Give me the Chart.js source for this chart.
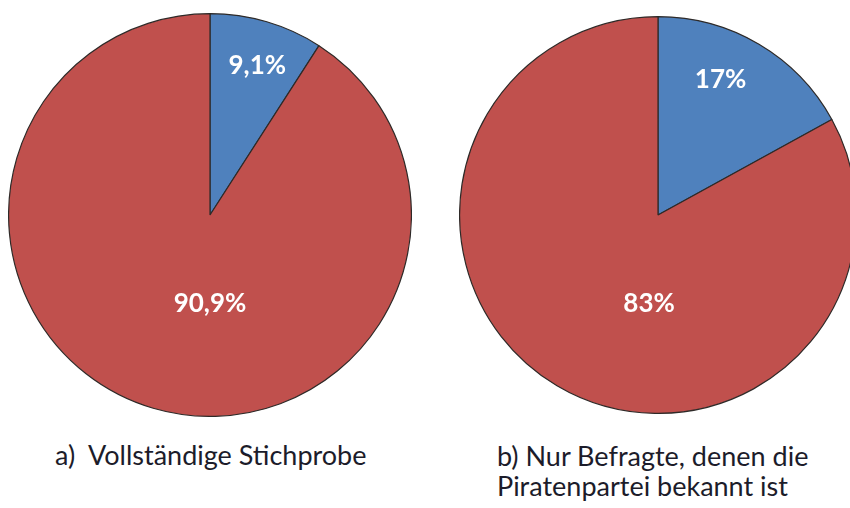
<!DOCTYPE html>
<html>
<head>
<meta charset="utf-8">
<script src="https://cdn.jsdelivr.net/npm/chart.js@4.4.0/dist/chart.umd.min.js"></script>
<style>
    html, body { margin: 0; padding: 0; background: #fff; overflow: hidden; width: 850px; height: 508px; }
    .pie { position: absolute; }
    .caption { position: absolute; font-family: Lato, "Open Sans", sans-serif; font-size: 27px; color: #1c1c2a; line-height: 30px; }
</style>
</head>
<body>
<div class="pie" style="left:8px; top:13px; width:404px; height:404px;"><canvas id="pieA"></canvas></div>
<div class="pie" style="left:459px; top:16px; width:398px; height:398px;"><canvas id="pieB"></canvas></div>
<div class="caption" style="left:55px; top:440px;">a)&nbsp; Vollständige Stichprobe</div>
<div class="caption" style="left:497px; top:441px;">b) Nur Befragte, denen die<br>Piratenpartei bekannt ist</div>
<script>
// Anteile in Prozent (blau = ja, rot = nein)
const categories = ["Piratenpartei", "andere"];
const valuesA = [9.1, 90.9];
const valuesB = [17, 83];
const labelsA = ["9,1%", "90,9%"];
const labelsB = ["17%", "83%"];
const colors = ["#4f81bd", "#c0504d"];

// draws the percentage text inside each slice
const sliceLabels = {
    id: "sliceLabels",
    afterDatasetsDraw(chart, args, opts) {
        let ctx = chart.ctx;
        let meta = chart.getDatasetMeta(0);
        ctx.save();
        ctx.fillStyle = "#fff";
        ctx.font = "bold 26px Lato, 'Open Sans', sans-serif";
        ctx.textAlign = "center";
        ctx.textBaseline = "middle";
        meta.data.forEach((arc, i) => {
            let p = arc.getProps(["x", "y", "startAngle", "endAngle", "outerRadius"], true);
            let angle = opts.angles[i] !== null ? opts.angles[i] : (p.startAngle + p.endAngle) / 2 + opts.shift[i];
            let r = p.outerRadius * opts.radius[i];
            ctx.fillText(opts.texts[i], p.x + Math.cos(angle) * r, p.y + Math.sin(angle) * r);
        });
        ctx.restore();
    }
};

function makePie(id, values, texts, radius, angles, shift) {
    let ctx = document.getElementById(id).getContext("2d");
    return new Chart(ctx, {
        type: "pie",
        data: {
            labels: categories,
            datasets: [{
                data: values,
                backgroundColor: colors,
                borderColor: "#2e2a28",
                borderWidth: 1.2
            }]
        },
        options: {
            responsive: true,
            maintainAspectRatio: false,
            animation: false,
            layout: { padding: 0 },
            plugins: {
                legend: { display: false },
                tooltip: { enabled: false },
                sliceLabels: { texts: texts, radius: radius, angles: angles, shift: shift }
            }
        },
        plugins: [sliceLabels]
    });
}

makePie("pieA", valuesA, labelsA, [0.78, 0.44], [null, Math.PI / 2], [0.02, 0]);
makePie("pieB", valuesB, labelsB, [0.75, 0.45], [null, Math.PI / 2 + 0.1], [-0.1, 0]);
</script>
</body>
</html>
